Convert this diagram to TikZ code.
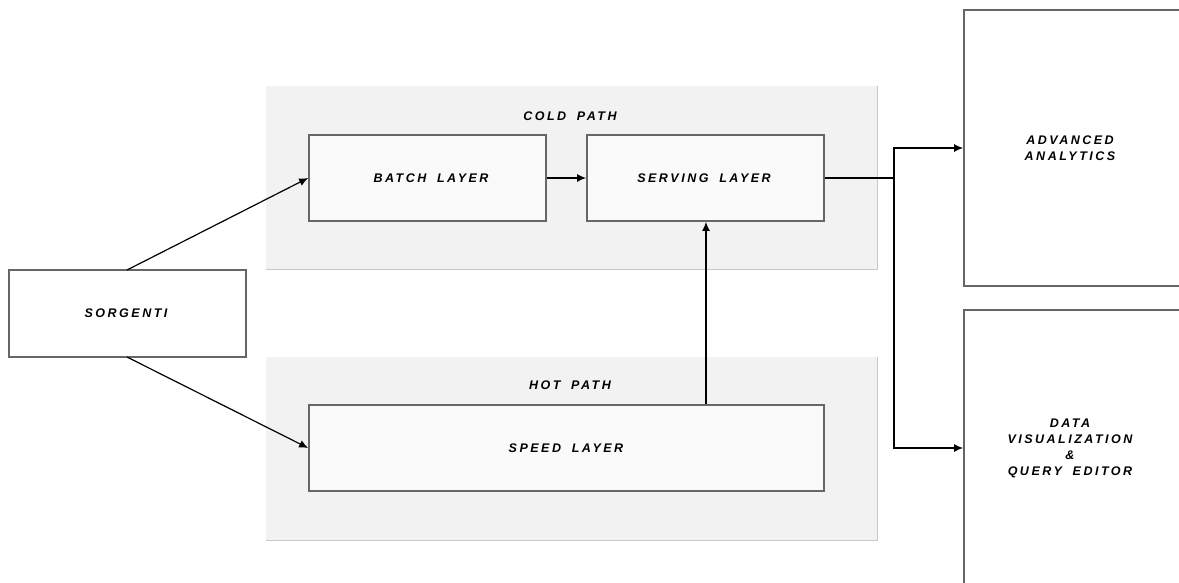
\documentclass[tikz,border=0pt]{standalone}
\usepackage{fontspec}
\newfontfamily\lblfont[LetterSpace=20,WordSpace=1.8]{Liberation Sans}
\usetikzlibrary{arrows.meta}
\definecolor{groupfill}{HTML}{F2F2F2}
\definecolor{groupedge}{HTML}{C8C8C8}
\definecolor{boxedge}{HTML}{666666}
\definecolor{boxfill}{HTML}{FAFAFA}
\tikzset{
  lbl/.style={font=\lblfont\bfseries\itshape\fontsize{12.5}{16}\selectfont, text=black, align=center},
  group/.style={fill=groupfill, draw=none},
  layerbox/.style={draw=boxedge, fill=boxfill, line width=1.8pt},
  outbox/.style={draw=boxedge, fill=white, line width=1.8pt},
  flow/.style={draw=black, line width=1.2pt, -{Latex[length=9pt,width=8pt]}},
  link/.style={draw=black, line width=1.2pt}
}
\begin{document}
\begin{tikzpicture}[x=1pt,y=-1pt]
  \useasboundingbox (0,0) rectangle (1179,582);
  \fill[white] (0,0) rectangle (1179,582);

  % groups
  \path[group] (266,86) rectangle (877,269);
  \draw[groupedge, line width=0.8pt] (266,269) -- (877,269) -- (877,86);
  \path[group] (266,357) rectangle (877,540);
  \draw[groupedge, line width=0.8pt] (266,540) -- (877,540) -- (877,357);
  \node[lbl] (coldlbl) at (570,116) {COLD PATH};
  \node[lbl] (hotlbl) at (570,385) {HOT PATH};

  % layer boxes
  \node[layerbox, minimum width=237pt, minimum height=86pt] (batch) at (427.5,178) {};
  \node[lbl] at (431,178) {BATCH LAYER};
  \node[layerbox, minimum width=237pt, minimum height=86pt] (serving) at (705.5,178) {};
  \node[lbl] at (704,178) {SERVING LAYER};
  \node[layerbox, minimum width=515pt, minimum height=86pt] (speed) at (566.5,448) {};
  \node[lbl] at (566,448) {SPEED LAYER};
  \node[layerbox, fill=white, minimum width=237pt, minimum height=87pt] (src) at (127.5,313.5) {};
  \node[lbl] at (126,313.5) {SORGENTI};

  % output boxes (running past the right and bottom edges)
  \node[outbox, minimum width=216pt, minimum height=276pt] (adv) at (1072,148) {};
  \node[lbl] at (1070,148) {ADVANCED\\ANALYTICS};
  \node[outbox, minimum width=216pt, minimum height=276pt] (viz) at (1072,448) {};
  \node[lbl] at (1070,448) {DATA\\VISUALIZATION\\\&\\QUERY EDITOR};

  % connectors
  \coordinate (srcT) at (127,270);
  \coordinate (srcB) at (127,357);
  \draw[flow] (srcT) -- (batch.west);
  \draw[flow] (srcB) -- (speed.west);
  \draw[flow] (batch.east) -- (serving.west);
  \draw[flow] (speed.north -| 706,0) -- (serving.south -| 706,0);
  \coordinate (split) at (894,178);
  \draw[link] (serving.east) -- (split);
  \draw[flow] (split) |- (adv.west);
  \draw[flow] (split) |- (viz.west);
\end{tikzpicture}
\end{document}
